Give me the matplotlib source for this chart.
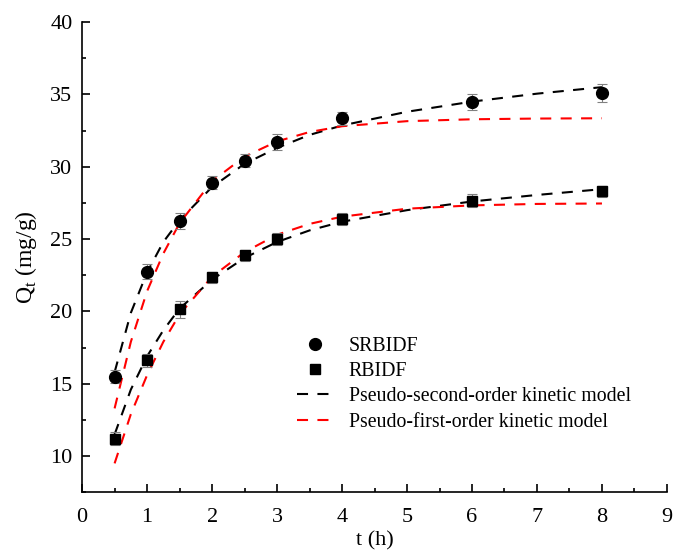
"""Adsorption kinetics of SRBIDF and RBIDF with fitted kinetic models."""

import matplotlib
matplotlib.use('Agg')
import matplotlib.pyplot as plt
from matplotlib.ticker import MultipleLocator

plt.rcParams['font.family'] = ['Liberation Serif', 'DejaVu Serif']
plt.rcParams['mathtext.fontset'] = 'custom'
plt.rcParams['mathtext.rm'] = 'Liberation Serif'

# measured points
t_exp = [0.5, 1, 1.5, 2, 2.5, 3, 4, 6, 8]
q_srbidf = [15.5, 22.75, 26.25, 28.88, 30.43, 31.68, 33.35, 34.48, 35.1]
err_srbidf = [0.45, 0.5, 0.55, 0.45, 0.45, 0.55, 0.45, 0.55, 0.6]
q_rbidf = [11.2, 16.62, 20.15, 22.35, 23.88, 25.0, 26.38, 27.65, 28.3]
err_rbidf = [0.45, 0.45, 0.6, 0.4, 0.4, 0.4, 0.4, 0.45, 0.4]

# fitted model curves
t_fit = [0.5, 0.75, 1, 1.25, 1.5, 2, 2.5, 3, 3.5, 4, 5, 6, 7, 8]
pso_srbidf = [15.8, 19.9, 22.7, 24.8, 26.3, 28.6, 30.2, 31.3, 32.2, 32.85,
              33.8, 34.5, 35.05, 35.5]
pfo_srbidf = [13.3, 17.9, 21.4, 24.0, 26.1, 29.0, 30.7, 31.75, 32.4, 32.8,
              33.15, 33.28, 33.33, 33.35]
pso_rbidf = [11.5, 14.6, 16.9, 18.7, 20.2, 22.2, 23.7, 24.8, 25.6, 26.2,
             27.0, 27.6, 28.05, 28.45]
pfo_rbidf = [9.5, 12.9, 15.6, 17.9, 19.8, 22.4, 24.1, 25.3, 26.05, 26.55,
             27.1, 27.33, 27.43, 27.46]

fig = plt.figure(figsize=(6.73, 5.51), dpi=100)
ax = fig.add_axes([0.122, 0.1065, 0.869, 0.8535])

dash = (0, (5.3, 4.5))
ax.plot(t_fit, pso_srbidf, color='black', lw=1.5, linestyle=dash, zorder=2)
ax.plot(t_fit, pso_rbidf, color='black', lw=1.5, linestyle=dash, zorder=2)
ax.plot(t_fit, pfo_srbidf, color='#FF0000', lw=1.5, linestyle=dash, zorder=2)
ax.plot(t_fit, pfo_rbidf, color='#FF0000', lw=1.5, linestyle=dash, zorder=2)

# error bars, grey with small caps
ax.errorbar(t_exp, q_srbidf, yerr=err_srbidf, fmt='none', ecolor='#808080',
            elinewidth=0.8, capsize=3.5, capthick=0.8, zorder=3)
ax.errorbar(t_exp, q_rbidf, yerr=err_rbidf, fmt='none', ecolor='#808080',
            elinewidth=0.8, capsize=3.5, capthick=0.8, zorder=3)
ax.plot(t_exp, q_srbidf, 'o', color='black', ms=8.5, zorder=4)
ax.plot(t_exp, q_rbidf, 's', color='black', ms=7.2, zorder=4)

# legend proxies
h1, = ax.plot([], [], 'o', color='black', ms=8.5, label='SRBIDF')
h2, = ax.plot([], [], 's', color='black', ms=7.2, label='RBIDF')
h3, = ax.plot([], [], color='black', lw=1.5, linestyle=dash,
              label='Pseudo-second-order kinetic model')
h4, = ax.plot([], [], color='#FF0000', lw=1.5, linestyle=dash,
              label='Pseudo-first-order kinetic model')
ax.legend(handles=[h1, h2, h3, h4], loc='upper left',
          bbox_to_anchor=(0.4415, 0.389), bbox_transform=fig.transFigure,
          frameon=False, fontsize=14.3, handlelength=1.8, handletextpad=0.8,
          labelspacing=0.32, borderpad=0, borderaxespad=0)

ax.set_xlim(0, 9)
ax.set_ylim(7.5, 40)
ax.xaxis.set_major_locator(MultipleLocator(1))
ax.xaxis.set_minor_locator(MultipleLocator(0.5))
ax.yaxis.set_major_locator(MultipleLocator(5))
ax.yaxis.set_minor_locator(MultipleLocator(2.5))
ax.tick_params(which='major', direction='in', length=6, width=1.2,
               labelsize=16)
ax.tick_params(which='minor', direction='in', length=3, width=1.2)
ax.tick_params(axis='x', which='major', pad=11)
ax.tick_params(axis='y', which='major', pad=7)

ax.spines['top'].set_visible(False)
ax.spines['right'].set_visible(False)
ax.spines['left'].set_linewidth(1.2)
ax.spines['bottom'].set_linewidth(1.2)

ax.set_xlabel('t (h)', fontsize=16, labelpad=3)
ax.set_ylabel(r'Q$_\mathregular{t}$ (mg/g)', fontsize=17, labelpad=8)

fig.savefig('out.png', dpi=100)
